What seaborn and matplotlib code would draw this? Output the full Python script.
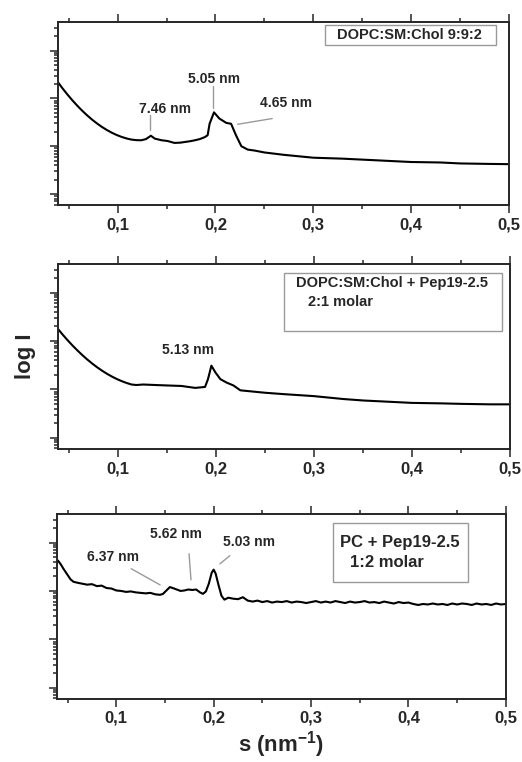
import numpy as np
import pandas as pd
import matplotlib
matplotlib.use('Agg')
from matplotlib import pyplot as plt
from matplotlib.patches import Rectangle
from matplotlib.ticker import LogLocator, NullFormatter
import seaborn as sns

# s (nm^-1) and log10 of intensity (arbitrary units)
s1 = [0.039, 0.044, 0.049, 0.054, 0.059, 0.064, 0.069, 0.074, 0.079, 0.084, 0.089, 0.094,
      0.099, 0.104, 0.109, 0.114, 0.119, 0.124, 0.129, 0.134, 0.138, 0.145, 0.151, 0.158,
      0.164, 0.169, 0.174, 0.179, 0.184, 0.189, 0.192, 0.194, 0.1985, 0.204, 0.211, 0.216,
      0.221, 0.2265, 0.233, 0.240, 0.25, 0.27, 0.30, 0.33, 0.35, 0.38, 0.40, 0.43, 0.45,
      0.48, 0.50]
logI1 = [2.34, 2.204, 2.076, 1.956, 1.844, 1.740, 1.644, 1.556, 1.476, 1.404, 1.340, 1.284,
         1.236, 1.196, 1.164, 1.14, 1.128, 1.125, 1.15, 1.22, 1.16, 1.125, 1.11, 1.07,
         1.075, 1.09, 1.105, 1.125, 1.15, 1.19, 1.23, 1.47, 1.71, 1.58, 1.49, 1.47,
         1.23, 1.00, 0.93, 0.91, 0.87, 0.82, 0.76, 0.74, 0.72, 0.69, 0.67, 0.66, 0.64,
         0.63, 0.625]

s2 = [0.039, 0.044, 0.049, 0.054, 0.059, 0.064, 0.069, 0.074, 0.079, 0.084, 0.089, 0.094,
      0.099, 0.104, 0.109, 0.114, 0.119, 0.126, 0.138, 0.151, 0.165, 0.179, 0.189, 0.192,
      0.1955, 0.1996, 0.2047, 0.211, 0.218, 0.225, 0.240, 0.25, 0.27, 0.30, 0.33, 0.35,
      0.38, 0.40, 0.43, 0.45, 0.48, 0.50]
logI2 = [2.25, 2.128, 2.013, 1.904, 1.802, 1.706, 1.616, 1.533, 1.456, 1.386, 1.322, 1.265,
         1.214, 1.170, 1.132, 1.10, 1.09, 1.10, 1.09, 1.08, 1.07, 1.03, 1.05, 1.21,
         1.49, 1.35, 1.21, 1.14, 1.08, 0.98, 0.95, 0.93, 0.90, 0.86, 0.80, 0.77,
         0.74, 0.72, 0.71, 0.70, 0.69, 0.69]

s3 = [0.040, 0.043, 0.046, 0.050, 0.053, 0.056, 0.060, 0.065, 0.070, 0.075, 0.080, 0.085,
      0.090, 0.095, 0.100, 0.105, 0.110, 0.115, 0.120, 0.125, 0.130, 0.135, 0.140, 0.145,
      0.148, 0.152, 0.155, 0.158, 0.162, 0.166, 0.170, 0.174, 0.178, 0.182, 0.186, 0.189,
      0.192, 0.195, 0.198, 0.200, 0.202, 0.205, 0.208, 0.211, 0.215, 0.220, 0.225, 0.230,
      0.235, 0.240, 0.245, 0.250, 0.255, 0.260, 0.265, 0.270, 0.275, 0.280, 0.285, 0.290,
      0.295, 0.300, 0.305, 0.310, 0.315, 0.320, 0.325, 0.330, 0.335, 0.340, 0.345, 0.350,
      0.355, 0.360, 0.365, 0.370, 0.375, 0.380, 0.385, 0.390, 0.395, 0.400, 0.405, 0.410,
      0.415, 0.420, 0.425, 0.430, 0.435, 0.440, 0.445, 0.450, 0.455, 0.460, 0.465, 0.470,
      0.475, 0.480, 0.485, 0.490, 0.495, 0.500]
logI3 = [2.63, 2.55, 2.45, 2.33, 2.24, 2.19, 2.17, 2.15, 2.13, 2.14, 2.10, 2.11,
         2.06, 2.05, 2.01, 2.00, 1.98, 1.99, 1.97, 1.96, 1.95, 1.96, 1.93, 1.92,
         1.94, 2.02, 2.08, 2.06, 2.03, 2.00, 2.01, 2.03, 2.02, 2.03, 1.97, 1.94,
         1.99, 2.15, 2.38, 2.44, 2.36, 2.12, 1.90, 1.82, 1.86, 1.84, 1.83, 1.87,
         1.80, 1.78, 1.80, 1.77, 1.79, 1.76, 1.78, 1.77, 1.79, 1.76, 1.78, 1.77,
         1.75, 1.77, 1.79, 1.76, 1.78, 1.76, 1.79, 1.77, 1.75, 1.78, 1.76, 1.77,
         1.79, 1.76, 1.77, 1.75, 1.78, 1.76, 1.74, 1.77, 1.75, 1.76, 1.73, 1.71,
         1.73, 1.72, 1.74, 1.72, 1.73, 1.71, 1.74, 1.72, 1.74, 1.73, 1.71, 1.74,
         1.72, 1.73, 1.71, 1.74, 1.72, 1.73]

xticks = [0.1, 0.2, 0.3, 0.4, 0.5]
xtick_labels = ['0,1', '0,2', '0,3', '0,4', '0,5']

sns.set_style('ticks')
plt.rcParams['font.family'] = ['Liberation Sans', 'DejaVu Sans']
plt.rcParams['font.weight'] = 'bold'
plt.rcParams['mathtext.fontset'] = 'custom'
plt.rcParams['mathtext.rm'] = 'Liberation Sans:bold'
plt.rcParams['mathtext.bf'] = 'Liberation Sans:bold'
plt.rcParams['mathtext.default'] = 'rm'

fig = plt.figure(figsize=(5.22, 7.62), dpi=100)
rects = [[0.111, 0.731, 0.864, 0.240],
         [0.111, 0.411, 0.866, 0.243],
         [0.109, 0.083, 0.860, 0.243]]
series = [(s1, logI1), (s2, logI2), (s3, logI3)]
axes = []
for r, (s, li) in zip(rects, series):
    ax = fig.add_axes(r)
    df = pd.DataFrame({'s': s, 'I': 10 ** np.array(li)})
    sns.lineplot(data=df, x='s', y='I', ax=ax, color='black', linewidth=1.5)
    ax.set_yscale('log')
    ax.set_xlim(0.039, 0.5)
    ax.set_ylim(10 ** -0.23, 10 ** 3.6)
    ax.yaxis.set_major_locator(LogLocator(base=10, numticks=10))
    ax.yaxis.set_minor_locator(LogLocator(base=10, subs=np.arange(2, 10), numticks=20))
    ax.yaxis.set_major_formatter(NullFormatter())
    ax.yaxis.set_minor_formatter(NullFormatter())
    ax.set_xticks(xticks)
    ax.set_xticklabels(xtick_labels, fontsize=12, fontweight='bold')
    ax.set_xticks([0.05, 0.15, 0.25, 0.35, 0.45], minor=True)
    ax.tick_params(axis='x', which='both', top=True, direction='out', width=1.1)
    ax.tick_params(axis='y', which='both', left=True, right=False, direction='out', width=1.1)
    ax.tick_params(which='major', length=5.8, pad=3)
    ax.tick_params(which='minor', length=2.9)
    for sp in ax.spines.values():
        sp.set_linewidth(1.4)
        sp.set_visible(True)
    ax.set_xlabel('')
    ax.set_ylabel('')
    axes.append(ax)

grey = '#9a9a9a'
ann = dict(fontsize=10, fontweight='bold', ha='center', va='center')

# panel 1
ax = axes[0]
ax.add_patch(Rectangle((0.592, 0.874), 0.379, 0.110, transform=ax.transAxes,
                       fill=False, edgecolor=grey, linewidth=1))
ax.text(0.78, 0.929, 'DOPC:SM:Chol 9:9:2', transform=ax.transAxes,
        fontsize=10.5, fontweight='bold', ha='center', va='center')
ax.text(0.148, 10 ** 1.79, '7.46 nm', **ann)
ax.plot([0.1327, 0.1327], [10 ** 1.65, 10 ** 1.33], color=grey, lw=1)
ax.text(0.199, 10 ** 2.40, '5.05 nm', **ann)
ax.plot([0.197, 0.197], [10 ** 2.27, 10 ** 1.81], color=grey, lw=1)
ax.text(0.272, 10 ** 1.90, '4.65 nm', **ann)
ax.plot([0.2227, 0.258], [10 ** 1.46, 10 ** 1.58], color=grey, lw=1)

# panel 2
ax = axes[1]
ax.add_patch(Rectangle((0.500, 0.638), 0.482, 0.313, transform=ax.transAxes,
                       fill=False, edgecolor=grey, linewidth=1))
ax.text(0.527, 0.897, 'DOPC:SM:Chol + Pep19-2.5', transform=ax.transAxes,
        fontsize=10.5, fontweight='bold', ha='left', va='center')
ax.text(0.553, 0.795, '2:1 molar', transform=ax.transAxes,
        fontsize=10.5, fontweight='bold', ha='left', va='center')
ax.text(0.1719, 10 ** 1.81, '5.13 nm', **ann)
ax.set_ylabel('log I', fontsize=16, fontweight='bold', labelpad=7)

# panel 3
ax = axes[2]
ax.add_patch(Rectangle((0.615, 0.632), 0.300, 0.319, transform=ax.transAxes,
                       fill=False, edgecolor=grey, linewidth=1))
ax.text(0.630, 0.843, 'PC + Pep19-2.5', transform=ax.transAxes,
        fontsize=12, fontweight='bold', ha='left', va='center')
ax.text(0.653, 0.735, '1:2 molar', transform=ax.transAxes,
        fontsize=12, fontweight='bold', ha='left', va='center')
ax.text(0.097, 10 ** 2.71, '6.37 nm', **ann)
ax.plot([0.1153, 0.145], [10 ** 2.46, 10 ** 2.125], color=grey, lw=1)
ax.text(0.161, 10 ** 3.17, '5.62 nm', **ann)
ax.plot([0.1747, 0.1767], [10 ** 2.77, 10 ** 2.23], color=grey, lw=1)
ax.text(0.236, 10 ** 3.02, '5.03 nm', **ann)
ax.plot([0.2166, 0.2064], [10 ** 2.73, 10 ** 2.56], color=grey, lw=1)
ax.set_xlabel('s (nm$^{-1}$)', fontsize=16, fontweight='bold', labelpad=2.5)

fig.savefig('out.png', dpi=100)
